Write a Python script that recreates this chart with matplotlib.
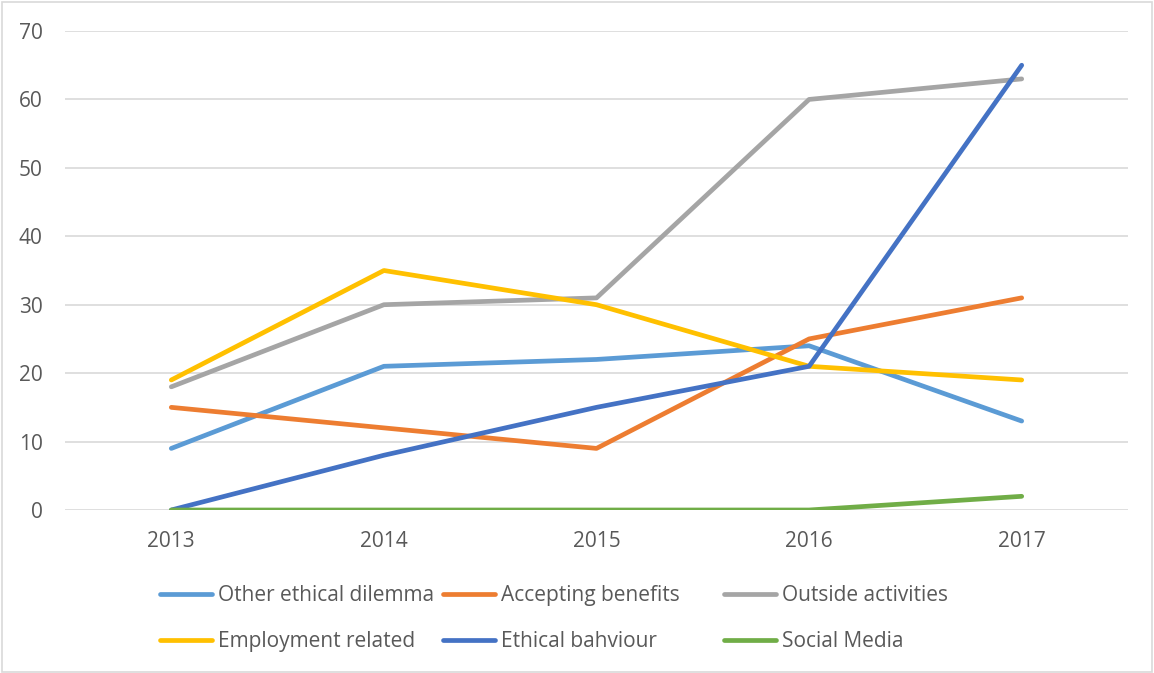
import matplotlib.pyplot as plt
from matplotlib.patches import Rectangle

# chart data
years = ['2013', '2014', '2015', '2016', '2017']
other_ethical = [9, 21, 22, 24, 13]
accepting_benefits = [15, 12, 9, 25, 31]
outside_activities = [18, 30, 31, 60, 63]
employment_related = [19, 35, 30, 21, 19]
ethical_behaviour = [0, 8, 15, 21, 65]
social_media = [0, 0, 0, 0, 2]

series = [
    ('Other ethical dilemma', other_ethical, '#5B9BD5'),
    ('Accepting benefits', accepting_benefits, '#ED7D31'),
    ('Outside activities', outside_activities, '#A5A5A5'),
    ('Employment related', employment_related, '#FFC000'),
    ('Ethical bahviour', ethical_behaviour, '#4472C4'),
    ('Social Media', social_media, '#70AD47'),
]

plt.rcParams['font.family'] = ['Open Sans', 'DejaVu Sans']

W, H = 1154, 673
fig = plt.figure(figsize=(W / 100, H / 100), dpi=100)
ax = fig.add_axes([65 / W, 1 - 510 / H, (1128 - 65) / W, (510 - 31) / H])

x = list(range(len(years)))
handles = []
for name, vals, col in series:
    ln, = ax.plot(x, vals, color=col, lw=3.4, solid_capstyle='round',
                  solid_joinstyle='round', label=name, zorder=3)
    handles.append(ln)

ax.set_xlim(-0.5, len(years) - 0.5)
ax.set_ylim(0, 70)
ax.set_yticks(range(0, 71, 10))
ax.set_xticks(x)
ax.set_xticklabels(years)
ax.grid(axis='y', color='#D9D9D9', lw=1.2, zorder=0)
for s in ax.spines.values():
    s.set_visible(False)
ax.tick_params(length=0, labelsize=15, colors='#595959', pad=15)
ax.tick_params(axis='y', pad=16)

# legend: three columns, two rows
col_x = [160, 443, 724]
for i, cx in enumerate(col_x):
    hs = [handles[i], handles[i + 3]]
    leg = fig.legend(hs, [h.get_label() for h in hs], loc='upper left',
                     bbox_to_anchor=(cx / W, 1 - 585 / H), frameon=False,
                     fontsize=15, handlelength=2.5, handletextpad=0.28,
                     labelspacing=1.2, borderpad=0, borderaxespad=0)
    for t in leg.get_texts():
        t.set_color('#595959')

# outer chart border
fig.patches.append(Rectangle((2 / W, 1 / H), (W - 4) / W, (H - 3) / H,
                             transform=fig.transFigure, fill=False,
                             edgecolor='#D9D9D9', lw=1.2))

fig.savefig('out.png', dpi=100)
